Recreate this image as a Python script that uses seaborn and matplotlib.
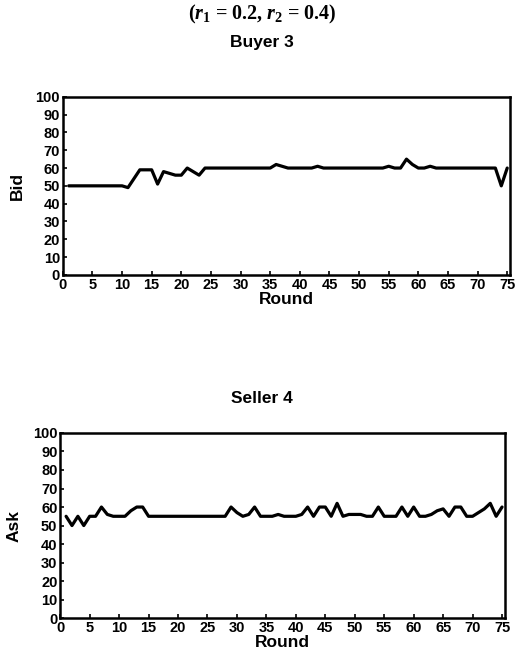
import numpy as np
import pandas as pd
import matplotlib
matplotlib.use("Agg")
import matplotlib.pyplot as plt
import seaborn as sns

# rounds 1..75
rounds = list(range(1, 76))

# Buyer 3 bids
buyer_bid = [50, 50, 50, 50, 50, 50, 50, 50, 50, 50,
             49, 54, 59, 59, 59, 51, 58, 57, 56, 56,
             60, 58, 56, 60, 60, 60, 60, 60, 60, 60,
             60, 60, 60, 60, 60, 62, 61, 60, 60, 60,
             60, 60, 61, 60, 60, 60, 60, 60, 60, 60,
             60, 60, 60, 60, 61, 60, 60, 65, 62, 60,
             60, 61, 60, 60, 60, 60, 60, 60, 60, 60,
             60, 60, 60, 50, 60]

# Seller 4 asks
seller_ask = [55, 50, 55, 50, 55, 55, 60, 56, 55, 55,
              55, 58, 60, 60, 55, 55, 55, 55, 55, 55,
              55, 55, 55, 55, 55, 55, 55, 55, 60, 57,
              55, 56, 60, 55, 55, 55, 56, 55, 55, 55,
              56, 60, 55, 60, 60, 55, 62, 55, 56, 56,
              56, 55, 55, 60, 55, 55, 55, 60, 55, 60,
              55, 55, 56, 58, 59, 55, 60, 60, 55, 55,
              57, 59, 62, 55, 60]

x_ticks = list(range(0, 80, 5))
y_ticks = list(range(0, 110, 10))

sns.set_style("ticks")
plt.rcParams['font.family'] = ['Liberation Sans', 'DejaVu Sans']
plt.rcParams['font.weight'] = 'bold'
plt.rcParams['text.color'] = 'black'
plt.rcParams['axes.labelcolor'] = 'black'
plt.rcParams['xtick.color'] = 'black'
plt.rcParams['ytick.color'] = 'black'
plt.rcParams['mathtext.fontset'] = 'custom'
plt.rcParams['mathtext.rm'] = 'Liberation Serif:bold'
plt.rcParams['mathtext.it'] = 'Liberation Serif:bold:italic'

df_buyer = pd.DataFrame({'Round': rounds, 'Bid': buyer_bid})
df_seller = pd.DataFrame({'Round': rounds, 'Ask': seller_ask})

fig = plt.figure(figsize=(5.19, 6.59), dpi=100)
ax1 = fig.add_axes([0.121, 0.583, 0.862, 0.270])
ax2 = fig.add_axes([0.116, 0.062, 0.857, 0.281])

sns.lineplot(data=df_buyer, x='Round', y='Bid', ax=ax1, color='black', linewidth=2.3)
sns.lineplot(data=df_seller, x='Round', y='Ask', ax=ax2, color='black', linewidth=2.3)

for ax, ylab in [(ax1, 'Bid'), (ax2, 'Ask')]:
    ax.set_xlim(0, 75.5)
    ax.set_ylim(0, 100)
    ax.set_xticks(x_ticks)
    ax.set_yticks(y_ticks)
    ax.tick_params(direction='in', length=3, width=1.2, labelsize=10.5, pad=2)
    for lab in ax.get_xticklabels() + ax.get_yticklabels():
        lab.set_fontweight('heavy')
    for sp in ax.spines.values():
        sp.set_linewidth(1.8)
        sp.set_color('black')
    ax.set_xlabel('Round', fontsize=12.5, fontweight='heavy', labelpad=0)
    ax.set_ylabel(ylab, fontsize=12.5, fontweight='heavy', labelpad=8)

fig.text(0.505, 0.978, r'($r_1$ = 0.2, $r_2$ = 0.4)', ha='center', va='center',
         fontsize=14.5, family='Liberation Serif', fontweight='bold')
fig.text(0.505, 0.935, 'Buyer 3', ha='center', va='center', fontsize=12.5, fontweight='heavy')
fig.text(0.505, 0.396, 'Seller 4', ha='center', va='center', fontsize=12.5, fontweight='heavy')

fig.savefig('out.png', dpi=100)
